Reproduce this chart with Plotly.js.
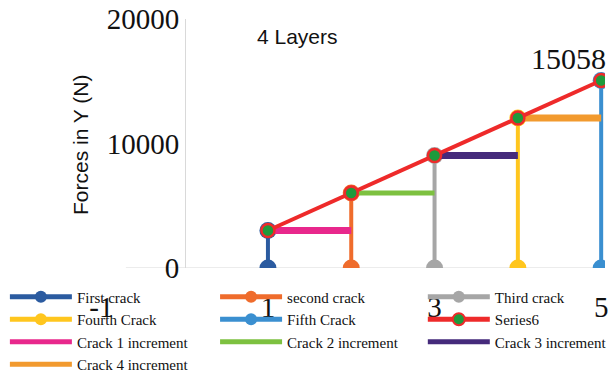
<!DOCTYPE html>
<html>
<head>
<meta charset="utf-8">
<script src="https://cdn.plot.ly/plotly-3.0.1.min.js"></script>
<style>
  html, body { margin: 0; padding: 0; background: #fff; }
  #chart { width: 611px; height: 375px; }
</style>
</head>
<body>
<div id="chart"></div>
<script>
// Crack positions along the section and the force at each crack (N)
var crackX = [1, 2, 3, 4, 5];
var forceY = [3012, 6023, 9035, 12046, 15058];

var crackNames = ['First crack', 'second crack', 'Third crack', 'Fourth Crack', 'Fifth Crack'];
var crackColors = ['#2B5BA0', '#EF6C2C', '#A6A6A6', '#FFC61E', '#3A8FD0'];
var crackLegend = ['legend', 'legend2', 'legend3', 'legend', 'legend2'];
var crackRank = [1, 1, 1, 2, 2];

var incNames = ['Crack 1 increment', 'Crack 2 increment', 'Crack 3 increment', 'Crack 4 increment'];
var incColors = ['#E8288C', '#7DC140', '#452A7B', '#F29A2E'];
var incWidths = [7, 5, 7, 7];
var incLegend = ['legend', 'legend2', 'legend3', 'legend'];
var incRank = [3, 3, 3, 4];

var yTicks = [0, 10000, 20000];
var xTicks = [-1, 1, 3, 5];

var serif = 'Liberation Serif';
var sans = 'Liberation Sans';

var traces = [];

// vertical drop from each crack force down to zero
crackX.forEach(function (x, i) {
  traces.push({
    type: 'scatter', mode: 'lines+markers',
    name: crackNames[i],
    x: [x, x], y: [0, forceY[i]],
    line: { color: crackColors[i], width: 4 },
    marker: { color: crackColors[i], size: 17 },
    legend: crackLegend[i], legendrank: crackRank[i],
    hoverinfo: 'x+y'
  });
});

// force held between consecutive cracks
for (var i = 0; i < incNames.length; i++) {
  traces.push({
    type: 'scatter', mode: 'lines',
    name: incNames[i],
    x: [crackX[i], crackX[i + 1]], y: [forceY[i], forceY[i]],
    line: { color: incColors[i], width: incWidths[i] },
    legend: incLegend[i], legendrank: incRank[i],
    hoverinfo: 'x+y'
  });
}

// overall force progression
traces.push({
  type: 'scatter', mode: 'lines+markers',
  name: 'Series6',
  x: crackX, y: forceY,
  line: { color: '#EE2A2A', width: 4 },
  marker: { color: '#1E9A3C', size: 13, line: { color: '#EE2A2A', width: 2.5 } },
  legend: 'legend3', legendrank: 2,
  hoverinfo: 'x+y'
});

var lastIdx = forceY.length - 1;

function legendAt(x) {
  return {
    orientation: 'v',
    xref: 'container', yref: 'container',
    xanchor: 'left', yanchor: 'top',
    x: x, y: 0.252,
    bgcolor: 'rgba(0,0,0,0)',
    borderwidth: 0,
    itemwidth: 62,
    itemsizing: 'constant',
    tracegroupgap: 0,
    font: { family: serif, size: 15, color: '#111111' }
  };
}

var layout = {
  width: 611, height: 375,
  margin: { l: 60, r: 6, t: 19, b: 107, autoexpand: false },
  paper_bgcolor: '#fff', plot_bgcolor: '#fff',
  font: { family: serif, color: '#111111' },
  showlegend: true,
  xaxis: {
    range: [-1.496, 5.046],
    tickvals: xTicks,
    ticktext: xTicks.map(String),
    showgrid: false, zeroline: false, showline: false,
    ticks: '',
    ticklabelstandoff: 19,
    tickfont: { family: serif, size: 29, color: '#111111' }
  },
  yaxis: {
    range: [0, 20000],
    tickvals: yTicks,
    ticktext: yTicks.map(String),
    anchor: 'free', position: 0.2294,
    showgrid: false,
    zeroline: false,
    showline: true, linecolor: '#D9D9D9', linewidth: 1,
    ticks: '',
    tickfont: { family: serif, size: 29, color: '#111111' }
  },
  shapes: [{
    // horizontal base line at zero force
    type: 'line', xref: 'x', yref: 'y',
    x0: -0.705, x1: 5.046, y0: 0, y1: 0,
    line: { color: '#D9D9D9', width: 1 },
    layer: 'below'
  }],
  annotations: [
    {
      text: 'Forces in Y (N)', xref: 'paper', yref: 'paper',
      x: 0.0385, y: 0.494, xanchor: 'center', yanchor: 'middle',
      textangle: -90,
      showarrow: false, font: { family: sans, size: 21, color: '#111111' }
    },
    {
      text: '4 Layers', xref: 'paper', yref: 'paper',
      x: 0.435, y: 0.93, xanchor: 'center', yanchor: 'middle',
      showarrow: false, font: { family: sans, size: 21, color: '#111111' }
    },
    {
      text: String(forceY[lastIdx]), xref: 'x', yref: 'y',
      x: crackX[lastIdx], y: forceY[lastIdx],
      xanchor: 'right', yanchor: 'bottom', xshift: 7, yshift: 4,
      showarrow: false, font: { family: serif, size: 30, color: '#111111' }
    }
  ],
  legend: legendAt(0.008),
  legend2: legendAt(0.352),
  legend3: legendAt(0.692)
};

Plotly.newPlot('chart', traces, layout, { displayModeBar: false, staticPlot: true });
</script>
</body>
</html>
